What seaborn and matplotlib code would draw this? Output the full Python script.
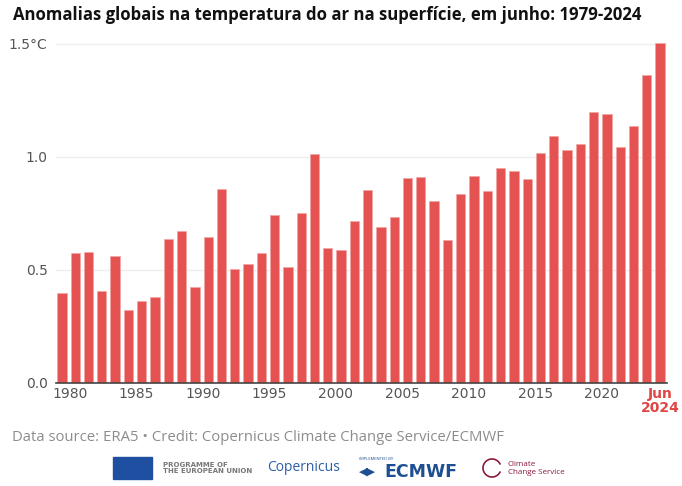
import numpy as np
import pandas as pd
import matplotlib.pyplot as plt
from matplotlib.patches import Rectangle, Arc
import seaborn as sns

# June surface air temperature anomalies (°C), ERA5
years = list(range(1979, 2025))
anomalies = [0.395, 0.574, 0.580, 0.407, 0.562, 0.322, 0.361, 0.379, 0.637, 0.671,
             0.422, 0.643, 0.855, 0.504, 0.525, 0.574, 0.742, 0.512, 0.749, 1.012,
             0.596, 0.585, 0.717, 0.851, 0.689, 0.735, 0.904, 0.910, 0.804, 0.630,
             0.833, 0.914, 0.848, 0.948, 0.935, 0.900, 1.015, 1.090, 1.031, 1.055,
             1.198, 1.189, 1.041, 1.137, 1.360, 1.503]
tick_years = [1980, 1985, 1990, 1995, 2000, 2005, 2010, 2015, 2020]
y_ticks = [0.0, 0.5, 1.0, 1.5]
y_labels = ['0.0', '0.5', '1.0', '1.5°C']

df = pd.DataFrame({'year': years, 'anomaly': anomalies})

sns.set_style('white')
plt.rcParams['font.family'] = ['Open Sans', 'DejaVu Sans']

fig = plt.figure(figsize=(6.82, 4.86), dpi=100)
ax = fig.add_axes([0.0821, 0.2126, 0.8955, 0.7022])

sns.barplot(data=df, x='year', y='anomaly', color='#e45252', saturation=1,
            width=0.7, edgecolor='#f3a5a5', linewidth=0.5, ax=ax, zorder=3)

ax.set_xlim(-0.45, 45.5)
ax.set_ylim(0, 1.51)
ax.set_yticks(y_ticks)
ax.set_yticklabels(y_labels)
ax.grid(axis='y', color='#eeeeee', linewidth=1, zorder=0)
ax.grid(axis='x', visible=False)

# year labels sit at the start of each year, slightly left of the bar centre
pos = [years.index(y) - 0.4 for y in tick_years] + [years.index(2024)]
ax.set_xticks(pos)
ax.set_xticklabels([str(y) for y in tick_years] + ['Jun\n2024'])

ax.tick_params(axis='both', length=0, labelsize=10, labelcolor='#555555')
ax.tick_params(axis='x', pad=3)
ax.tick_params(axis='y', pad=6)
for t in ax.get_xticklabels() + ax.get_yticklabels():
    t.set_family('DejaVu Sans')
lab = ax.get_xticklabels()[-1]
lab.set_color('#e04545')
lab.set_fontweight('bold')
lab.set_linespacing(1.0)
ax.set_xlabel('')
ax.set_ylabel('')
sns.despine(ax=ax, left=True, top=True, right=True)
ax.spines['bottom'].set_color('#444444')
ax.spines['bottom'].set_linewidth(1.2)
ax.spines['bottom'].set_zorder(4)

fig.text(0.019, 0.969, 'Anomalias globais na temperatura do ar na superfície, em junho: 1979-2024',
         fontsize=12.1, fontweight='bold', color='#111111', va='center', ha='left')

fig.text(0.017, 0.099, 'Data source: ERA5 • Credit: Copernicus Climate Change Service/ECMWF',
         fontsize=10.7, color='#8c8c8c', va='center', ha='left')

# logo strip (approximated with text)
fig.patches.append(Rectangle((113 / 682, 1 - 479 / 486), 39 / 682, 22 / 486,
                             transform=fig.transFigure, color='#1f4fa0'))
fig.text(163 / 682, 1 - 468 / 486, 'PROGRAMME OF\nTHE EUROPEAN UNION', fontsize=5.0,
         fontweight='bold', color='#777777', va='center', ha='left', linespacing=1.15,
         family='DejaVu Sans')
fig.text(267 / 682, 1 - 467 / 486, 'Copernicus', fontsize=10, color='#2a5ea8',
         va='center', ha='left')
fig.text(359 / 682, 1 - 459 / 486, 'IMPLEMENTED BY', fontsize=3, color='#1d4f91',
         va='center', ha='left')
fig.text(359 / 682, 1 - 472 / 486, '◀▶', fontsize=8, color='#1d4f91',
         va='center', ha='left', family='DejaVu Sans')
fig.text(384 / 682, 1 - 472 / 486, 'ECMWF', fontsize=12.5, fontweight='bold', color='#1d4f91',
         va='center', ha='left', family='DejaVu Sans')
fig.patches.append(Arc((492 / 682, 1 - 468 / 486), 18 / 682, 18 / 486, theta1=30, theta2=330,
                       transform=fig.transFigure, color='#8b1a3a', linewidth=1.2))
fig.text(508 / 682, 1 - 468.5 / 486, 'Climate\nChange Service', fontsize=5.8, color='#8b1a3a',
         va='center', ha='left', linespacing=1.2)

fig.savefig('out.png', dpi=100)
